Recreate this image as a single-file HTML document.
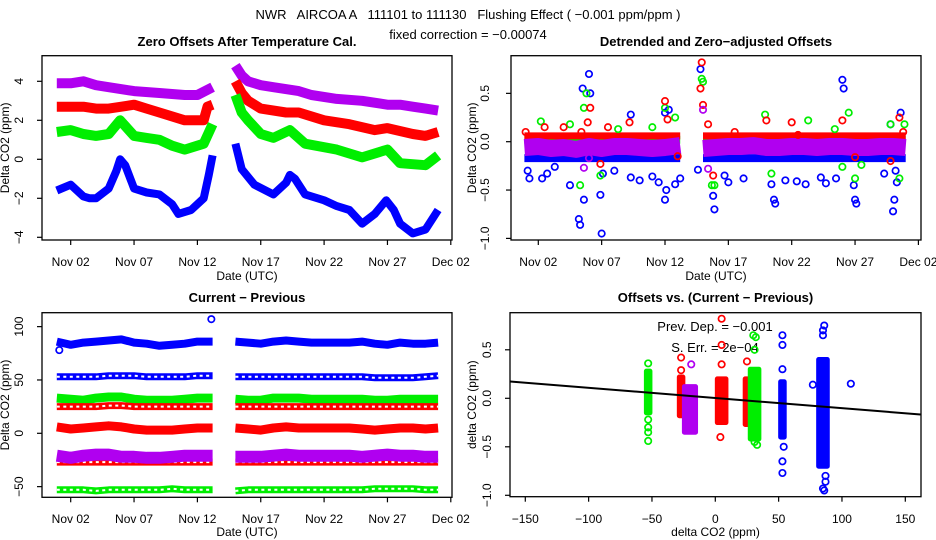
<!DOCTYPE html>
<html><head><meta charset="utf-8">
<style>
html,body{margin:0;padding:0;background:#fff;}
svg{display:block;font-family:"Liberation Sans",sans-serif;}
</style></head>
<body>
<svg id="chart" width="936" height="540" viewBox="0 0 936 540" xmlns="http://www.w3.org/2000/svg">
<rect width="936" height="540" fill="#fff"/>
<text x="468" y="19" font-size="13" text-anchor="middle" xml:space="preserve">NWR   AIRCOA A   111101 to 111130   Flushing Effect ( −0.001 ppm/ppm )</text>
<text x="468" y="39" font-size="13" text-anchor="middle">fixed correction = −0.00074</text>
<g id="g1"></g>
<g id="g2"></g>
<g id="g3"></g>
<g id="g4"></g>
</svg>
<script>
// ---------- DATA ----------
const dateTicks = ["Nov 02","Nov 07","Nov 12","Nov 17","Nov 22","Nov 27","Dec 02"];
const dateTickDays = [1,6,11,16,21,26,31];
const p1Ticks = [-4,-2,0,2,4];
const p2Ticks = [-1.0,-0.5,0.0,0.5];
const p2TickLabels = ["−1.0","−0.5","0.0","0.5"];
const p3Ticks = [-50,0,50,100];
const p3TickLabels = ["−50","0","50","100"];
const p4XTicks = [-150,-100,-50,0,50,100,150];
const p4XTickLabels = ["−150","−100","−50","0","50","100","150"];

// Panel 1: zero offsets (time in days since Nov 01)
const p1PurpleT = [-0.1,1,2,3,4,6,8,10,11,12.2, 14,14.5,15,16,17,19,20,22,24,26,27,28,29,30];
const p1PurpleV = [3.9,3.9,4.0,3.8,3.7,3.5,3.4,3.3,3.3,3.7, 4.8,4.3,4.0,3.8,3.7,3.5,3.3,3.1,3.0,2.8,2.8,2.7,2.6,2.5];
const p1RedT = [-0.1,1,2,3,4,5,6,7,8,10,11.5,11.8,12.2, 14,14.5,15,16,18,19,21,23,25,26,28,29,30];
const p1RedV = [2.7,2.7,2.7,2.6,2.6,2.7,2.8,2.6,2.4,2.0,2.0,2.7,2.8, 4.0,3.4,3.0,2.6,2.4,2.4,2.0,1.8,1.5,1.6,1.3,1.2,1.4];
const p1GreenT = [-0.1,1,2,3,4,4.9,6,7,8,9,10,11.5,12.2, 14,14.5,15,16,17,18.3,19.5,22,24,25.5,26,27,29,30];
const p1GreenV = [1.4,1.5,1.3,1.2,1.3,2.0,1.2,1.1,1.0,0.7,0.5,0.8,1.8, 3.3,2.4,2.0,1.3,1.1,1.5,0.8,0.5,0.1,0.4,0.5,-0.2,-0.3,0.2];
const p1BlueT = [-0.1,1,2,2.5,3,4,4.6,4.9,5.3,6,7,8,9,9.5,10.5,11.5,11.9,12.2, 14,14.5,15.5,17,18,18.3,18.7,19.5,21,22,23,24,25,25.9,26.5,27,28,29,30];
const p1BlueV = [-1.6,-1.3,-1.9,-2.0,-2.0,-1.5,-0.6,0.0,-0.3,-1.5,-1.7,-1.8,-2.3,-2.8,-2.6,-2.0,-0.8,0.2, 0.8,-0.5,-1.3,-1.8,-1.2,-0.8,-1.0,-1.8,-2.1,-2.4,-2.6,-3.3,-2.8,-2.1,-2.6,-3.3,-3.8,-3.6,-2.6];

// Shared time grid for panels 2 & 3
const tSeg1 = [-0.1,1,2,3,4,5,6,7,8,9,10,11,12.2];
const tSeg2 = [14,15,16,17,18,19,20,21,22,23,24,25,26,27,28,29,30];

// Panel 2: detrended offsets
const p2BandV1 = [-0.06,-0.05,-0.07,-0.06,-0.08,-0.05,-0.07,-0.05,-0.05,-0.06,-0.07,-0.06,-0.04];
const p2BandV2 = [-0.07,-0.06,-0.05,-0.05,-0.04,-0.06,-0.06,-0.05,-0.05,-0.06,-0.05,-0.05,-0.06,-0.06,-0.05,-0.05,-0.06];
const p2RedLine = 0.06, p2GreenLine = 0.02, p2BlueLine = -0.17;
const p2BlueOutT = [0.16,0.3,1.3,1.7,2.3,3.5,4.2,4.3,4.6,4.5,5.0,5.1,5.9,6.0,6.1,7.0,8.3,8.3,9.0,10.0,10.5,11.0,11.0,11.1,11.3,11.8,12.2,13.6,13.8,14.8,14.9,15.7,16.0,17.2,19.4,19.6,19.7,20.5,21.4,22.1,23.3,23.7,24.5,25.0,25.1,25.9,26.0,26.1,28.3,28.8,29.0,29.1,29.2,29.3,29.6];
const p2BlueOutV = [-0.3,-0.38,-0.38,-0.33,-0.26,-0.45,-0.8,-0.86,-0.6,0.55,0.7,0.5,-0.55,-0.95,-0.33,-0.3,-0.37,0.28,-0.4,-0.36,-0.42,-0.6,0.3,-0.5,0.33,-0.44,-0.38,-0.29,0.75,-0.56,-0.7,-0.35,-0.42,-0.38,-0.44,-0.6,-0.64,-0.4,-0.41,-0.44,-0.37,-0.43,-0.38,0.64,0.55,-0.45,-0.6,-0.64,-0.33,0.18,-0.72,-0.6,-0.3,-0.42,0.3];
const p2RedOutT = [0,1.5,3,4.4,4.9,5.1,5.9,6.5,8.2,11.0,11.2,12.0,13.9,14.0,13.8,14.4,14.8,16.5,19.0,21.0,21.5,25.0,26.0,28.8,29.5,29.8];
const p2RedOutV = [0.1,0.15,0.15,0.1,0.2,0.35,-0.23,0.15,0.2,0.42,0.23,-0.15,0.82,0.38,0.55,0.18,-0.35,0.1,0.22,0.2,0.07,0.22,-0.16,-0.2,0.25,0.1];
const p2GreenOutT = [1.2,3.5,4.3,4.6,4.8,5.9,7.3,10.0,11.8,11.0,13.9,14.0,14.7,14.9,18.9,19.4,22.3,24.4,25.0,25.5,26.0,26.5,28.8,29.5,29.9];
const p2GreenOutV = [0.21,0.18,-0.45,0.35,0.5,-0.35,0.13,0.15,0.25,0.35,0.65,0.62,-0.45,-0.45,0.28,-0.33,0.22,0.13,-0.26,0.3,-0.38,-0.24,0.18,-0.38,0.18];
const p2PurpleOutT = [4.6,5.0,14.0,14.4];
const p2PurpleOutV = [-0.27,-0.17,0.33,-0.28];

// Panel 3: current - previous
const p3Blue85a = [86,83,85,86,87,88,85,84,82,83,84,86,86];
const p3Blue85b = [86,85,84,86,87,86,85,85,85,85,86,84,83,85,84,84,85];
const p3Blue53a = [53,53,53,53,54,54,54,53,53,53,53,54,54];
const p3Blue53b = [53,53,53,53,53,53,53,53,53,53,53,52,52,52,52,53,54];
const p3Green33a = [33,32,31,33,34,34,32,31,31,31,32,33,33];
const p3Green33b = [32,31,31,33,33,33,32,32,32,32,32,31,31,32,32,32,32];
const p3Red25a = [25,25,25,25,26,26,25,25,25,25,25,25,25];
const p3Red25b = [25,25,25,25,25,25,25,25,25,25,25,25,25,25,25,25,25];
const p3Red5a = [6,4,5,6,7,6,4,3,3,3,4,5,5];
const p3Red5b = [5,4,3,5,6,5,5,5,5,5,4,3,4,5,5,4,5];
const p3Purplea = [-21,-23,-21,-20,-20,-22,-22,-23,-23,-22,-21,-21,-21];
const p3Purpleb = [-22,-22,-22,-21,-20,-21,-21,-21,-21,-21,-22,-21,-20,-21,-21,-22,-22];
const p3RedM27a = [-27,-27,-27,-27,-27,-27,-27,-27,-27,-27,-27,-27,-27];
const p3RedM27b = [-27,-27,-27,-27,-27,-27,-27,-27,-27,-27,-27,-27,-27,-27,-27,-27,-27];
const p3GreenM53a = [-53,-53,-53,-54,-53,-53,-53,-53,-53,-52,-53,-53,-53];
const p3GreenM53b = [-54,-53,-53,-53,-53,-53,-53,-53,-53,-53,-53,-52,-52,-52,-52,-53,-53];
const p3OutT = [0.1,12.1];
const p3OutV = [78,107];

// Panel 4: offsets vs (current - previous)
const p4ClusterX = [-53,-27,5,25,31,53,85,-20];
const p4ClusterSpread = [1,1,3,1,3,1,3,4];
const p4ClusterLo = [-0.15,-0.18,-0.25,-0.27,-0.42,-0.4,-0.7,-0.35];
const p4ClusterHi = [0.28,0.22,0.2,0.2,0.3,0.17,0.4,0.12];
const p4ClusterColor = ["#00ee00","#ff0000","#ff0000","#ff0000","#00ee00","#0000ff","#0000ff","#b000f0"];
const p4OutX = [-53,-53,-53,-53,-53,-27,-27,-19,5,5,5,4,25,31,32,30,31,33,53,53,53,54,53,53,86,85,85,87,87,86,86,85,107,77];
const p4OutY = [0.36,-0.22,-0.3,-0.35,-0.44,0.29,0.42,0.35,0.35,0.55,0.82,-0.4,0.38,0.5,0.63,0.65,-0.45,-0.48,0.3,0.55,0.65,-0.5,-0.65,-0.77,0.75,0.7,0.65,-0.8,-0.86,-0.6,-0.95,-0.93,0.15,0.14];
const p4OutColor = ["#00ee00","#00ee00","#00ee00","#00ee00","#00ee00","#ff0000","#ff0000","#b000f0","#ff0000","#ff0000","#ff0000","#ff0000","#ff0000","#00ee00","#00ee00","#00ee00","#00ee00","#00ee00","#0000ff","#0000ff","#0000ff","#0000ff","#0000ff","#0000ff","#0000ff","#0000ff","#0000ff","#0000ff","#0000ff","#0000ff","#0000ff","#0000ff","#0000ff","#0000ff"];
const p4Slope = -0.00105, p4Intercept = 0.003;

// ---------- DRAWING ----------
const NS = "http://www.w3.org/2000/svg";
function mk(parent, tag, attrs, text) {
  const e = document.createElementNS(NS, tag);
  for (const k in attrs) e.setAttribute(k, attrs[k]);
  if (text !== undefined) e.textContent = text;
  parent.appendChild(e);
  return e;
}
const BLUE="#0000ff", RED="#ff0000", GREEN="#00ee00", PURPLE="#b000f0";

const P = {
  1:{x0:42,x1:452,y0:55.7,y1:240, sx:d=>70.7+(d-1)*12.67, sy:v=>159.3-v*19.5, title:"Zero Offsets After Temperature Cal.", ty:46},
  2:{x0:511,x1:921,y0:55.7,y1:240, sx:d=>538.3+(d-1)*12.67, sy:v=>141.7-v*96.7, title:"Detrended and Zero−adjusted Offsets", ty:46},
  3:{x0:42,x1:452,y0:312.7,y1:497.3, sx:d=>70.7+(d-1)*12.67, sy:v=>433.3-v*1.0667, title:"Current − Previous", ty:302},
  4:{x0:510,x1:921,y0:312.7,y1:496.7, sx:v=>715.3+v*1.2667, sy:v=>398.3-v*97, title:"Offsets vs. (Current − Previous)", ty:302}
};

function frame(g, p, xt, xl, yt, yl, xlab, ylab, ylabX, ytickX, xtickY, xlabY) {
  let e = mk(g,"rect",{x:p.x0,y:p.y0,width:p.x1-p.x0,height:p.y1-p.y0,fill:"none",stroke:"#000","stroke-width":1.3});
  
  
  e = mk(g,"text",{x:(p.x0+p.x1)/2,y:p.ty,"font-size":13,"font-weight":"bold","text-anchor":"middle"},p.title);
  
  
  xt.forEach((v,i)=>{
    const x=p.sx(v);
    let t = mk(g,"line",{x1:x,x2:x,y1:p.y1,y2:p.y1+5,stroke:"#000","stroke-width":1.2});
    
    
    t = mk(g,"text",{x:x,y:xtickY,"font-size":12,"text-anchor":"middle"},xl[i]);
    
    
  });
  yt.forEach((v,i)=>{
    const y=p.sy(v);
    let t = mk(g,"line",{x1:p.x0-5,x2:p.x0,y1:y,y2:y,stroke:"#000","stroke-width":1.2});
    
    
    t = mk(g,"text",{x:ytickX,y:y,"font-size":12,"text-anchor":"middle",transform:`rotate(-90 ${ytickX} ${y})`},yl[i]);
    
    
  });
  e = mk(g,"text",{x:(p.x0+p.x1)/2,y:xlabY,"font-size":12,"text-anchor":"middle"},xlab);
  
  
  const cy=(p.y0+p.y1)/2;
  e = mk(g,"text",{x:ylabX,y:cy,"font-size":12,"text-anchor":"middle",transform:`rotate(-90 ${ylabX} ${cy})`},ylab);
  
  
}
function band(g,p,ts,vs,color,w,name,open){
  const pts = ts.map((t,i)=>p.sx(t).toFixed(1)+","+p.sy(vs[i]).toFixed(1)).join(" ");
  let e = mk(g,"polyline",{points:pts,fill:"none",stroke:color,"stroke-width":w,"stroke-linejoin":"round","stroke-linecap":"butt"});
  
  
  if(open){
    const e2 = mk(g,"polyline",{points:pts,fill:"none",stroke:"#fff","stroke-width":2,"stroke-dasharray":"3 3.5"});
    
    
  }
  return e;
}
function pts(g,p,xs,ys,colors,name){
  xs.forEach((x,i)=>{
    const c = mk(g,"circle",{cx:p.sx(x),cy:p.sy(ys[i]),r:3.2,fill:"none",stroke:Array.isArray(colors)?colors[i]:colors,"stroke-width":1.7});
    
    
  });
}

// Panel 1
(function(){
  const g=document.getElementById("g1"), p=P[1];
  frame(g,p,dateTickDays,dateTicks,p1Ticks,["−4","−2","0","2","4"],"Date (UTC)","Delta CO2 (ppm)",9,23,266,280);
  const segs=(T,V,color,w,name,open)=>{
    const i=T.findIndex(t=>t>13);
    band(g,p,T.slice(0,i),V.slice(0,i),color,w,name,open);
    band(g,p,T.slice(i),V.slice(i),color,w,name,open);
  };
  segs(p1PurpleT,p1PurpleV,PURPLE,10,"purple-offset-series");
  segs(p1RedT,p1RedV,RED,10,"red-offset-series");
  segs(p1GreenT,p1GreenV,GREEN,10,"green-offset-series");
  segs(p1BlueT,p1BlueV,BLUE,8,"blue-offset-series");
})();

// Panel 2
(function(){
  const g=document.getElementById("g2"), p=P[2];
  frame(g,p,dateTickDays,dateTicks,p2Ticks,p2TickLabels,"Date (UTC)","Delta CO2 (ppm)",476,489,266,280);
  [[tSeg1],[tSeg2]].forEach(([T])=>{
    band(g,p,T,T.map(()=>p2BlueLine),BLUE,8,"blue-detrended-band");
    band(g,p,T,T.map(()=>p2GreenLine),GREEN,8,"green-detrended-band");
    band(g,p,T,T.map(()=>p2RedLine),RED,7,"red-detrended-band");
  });
  band(g,p,tSeg1,p2BandV1,PURPLE,17,"purple-detrended-band");
  band(g,p,tSeg2,p2BandV2,PURPLE,17,"purple-detrended-band");
  pts(g,p,p2BlueOutT,p2BlueOutV,BLUE,"blue-outlier-point");
  pts(g,p,p2GreenOutT,p2GreenOutV,GREEN,"green-outlier-point");
  pts(g,p,p2RedOutT,p2RedOutV,RED,"red-outlier-point");
  pts(g,p,p2PurpleOutT,p2PurpleOutV,PURPLE,"purple-outlier-point");
})();

// Panel 3
(function(){
  const g=document.getElementById("g3"), p=P[3];
  frame(g,p,dateTickDays,dateTicks,p3Ticks,p3TickLabels,"Date (UTC)","Delta CO2 (ppm)",9,23,523,536);
  const B=[[p3Blue85a,p3Blue85b,BLUE,8,"blue-85-band",false],[p3Blue53a,p3Blue53b,BLUE,7,"blue-53-band",true],
    [p3Green33a,p3Green33b,GREEN,9,"green-33-band",false],[p3Red25a,p3Red25b,RED,7,"red-25-band",true],
    [p3Red5a,p3Red5b,RED,9,"red-5-band",false],[p3RedM27a,p3RedM27b,RED,7,"red-minus27-band",true],
    [p3Purplea,p3Purpleb,PURPLE,12,"purple-minus22-band",false],[p3GreenM53a,p3GreenM53b,GREEN,7,"green-minus53-band",true]];
  B.forEach(b=>{band(g,p,tSeg1,b[0],b[2],b[3],b[4],b[5]);band(g,p,tSeg2,b[1],b[2],b[3],b[4],b[5]);});
  pts(g,p,p3OutT,p3OutV,BLUE,"blue-outlier-point");
})();

// Panel 4
(function(){
  const g=document.getElementById("g4"), p=P[4];
  frame(g,p,p4XTicks,p4XTickLabels,p2Ticks,p2TickLabels,"delta CO2 (ppm)","delta CO2 (ppm)",476,491,523,536);
  let e = mk(g,"text",{x:715,y:331,"font-size":13,"text-anchor":"middle"},"Prev. Dep. =  −0.001");
  
  
  e = mk(g,"text",{x:715,y:352,"font-size":13,"text-anchor":"middle"},"S. Err. =  2e−04");
  
  
  p4ClusterX.forEach((cx,i)=>{
    const xa=p.sx(cx-p4ClusterSpread[i]), xb=p.sx(cx+p4ClusterSpread[i]);
    const ya=p.sy(p4ClusterHi[i]), yb=p.sy(p4ClusterLo[i]);
    const r = mk(g,"rect",{x:xa-2.5,y:ya-2,width:xb-xa+5,height:yb-ya+4,rx:2,fill:p4ClusterColor[i],stroke:p4ClusterColor[i],"stroke-width":1});
    
    
  });
  pts(g,p,p4OutX,p4OutY,p4OutColor,"cluster-outlier-point");
  const xl=-162, xr=162;
  const l = mk(g,"line",{x1:p.sx(xl),y1:p.sy(p4Intercept+p4Slope*xl),x2:p.sx(xr),y2:p.sy(p4Intercept+p4Slope*xr),stroke:"#000","stroke-width":2});
  
  
})();
</script>
</body></html>
